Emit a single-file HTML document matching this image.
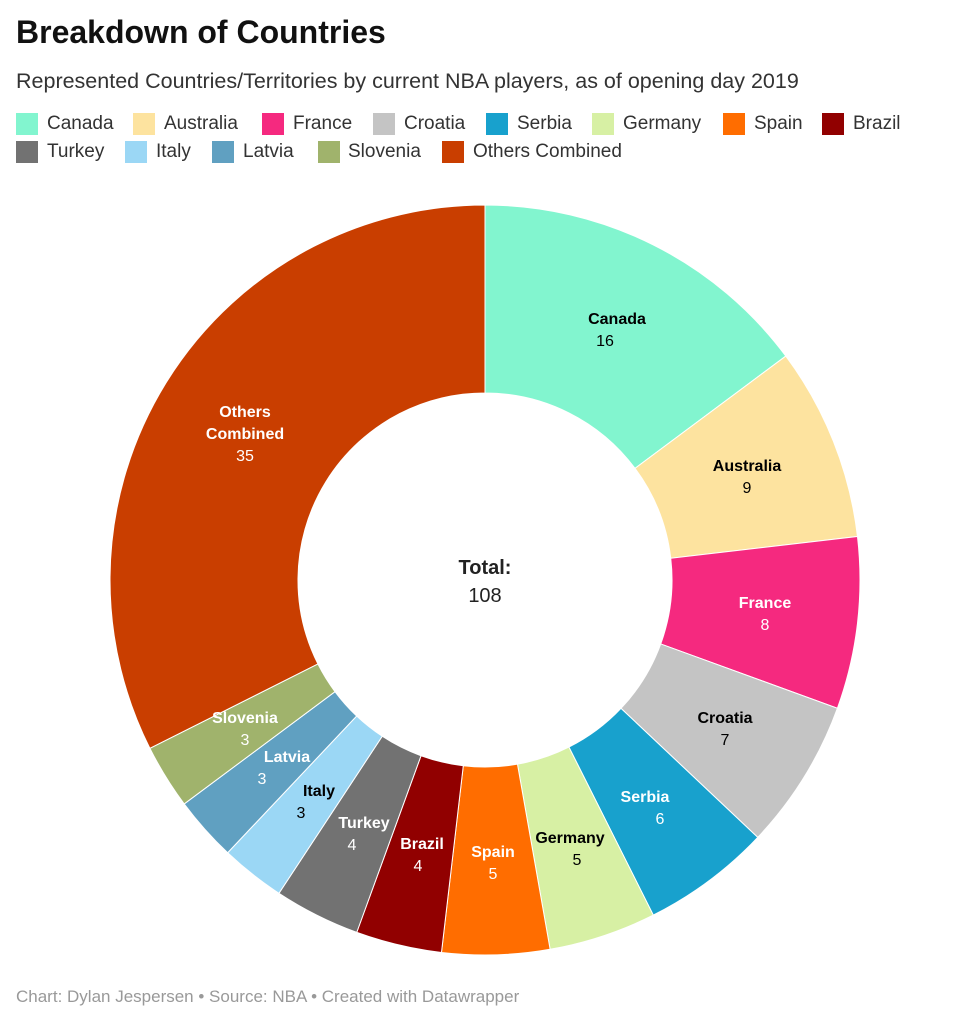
<!DOCTYPE html>
<html><head><meta charset="utf-8"><style>
body{margin:0;width:971px;height:1024px;background:#fff;font-family:"Liberation Sans",sans-serif;position:relative;overflow:hidden;color:#222}
.t{position:absolute;left:16px;top:14px;font-size:32px;font-weight:bold;color:#111}
.s{position:absolute;left:16px;top:69px;font-size:21.5px;color:#333}
.l{position:absolute;font-size:19px;color:#333;line-height:22px}
.sw{position:absolute;width:22px;height:22px}
.f{position:absolute;left:16px;top:987px;font-size:17px;color:#999}
svg{position:absolute;left:0;top:0}
svg text{font-family:"Liberation Sans",sans-serif;font-size:16px;text-anchor:middle}
</style></head><body>
<div class="t">Breakdown of Countries</div>
<div class="s">Represented Countries/Territories by current NBA players, as of opening day 2019</div>
<div class="sw" style="left:16px;top:113px;background:#82f5cf"></div><div class="l" style="left:47px;top:113px">Canada</div>
<div class="sw" style="left:133px;top:113px;background:#fde39f"></div><div class="l" style="left:164px;top:113px">Australia</div>
<div class="sw" style="left:262px;top:113px;background:#f5297f"></div><div class="l" style="left:293px;top:113px">France</div>
<div class="sw" style="left:373px;top:113px;background:#c4c4c4"></div><div class="l" style="left:404px;top:113px">Croatia</div>
<div class="sw" style="left:486px;top:113px;background:#18a1cd"></div><div class="l" style="left:517px;top:113px">Serbia</div>
<div class="sw" style="left:592px;top:113px;background:#d7f0a4"></div><div class="l" style="left:623px;top:113px">Germany</div>
<div class="sw" style="left:723px;top:113px;background:#ff6d00"></div><div class="l" style="left:754px;top:113px">Spain</div>
<div class="sw" style="left:822px;top:113px;background:#910000"></div><div class="l" style="left:853px;top:113px">Brazil</div>
<div class="sw" style="left:16px;top:141px;background:#727272"></div><div class="l" style="left:47px;top:141px">Turkey</div>
<div class="sw" style="left:125px;top:141px;background:#9bd7f5"></div><div class="l" style="left:156px;top:141px">Italy</div>
<div class="sw" style="left:212px;top:141px;background:#60a0c1"></div><div class="l" style="left:243px;top:141px">Latvia</div>
<div class="sw" style="left:318px;top:141px;background:#a0b36c"></div><div class="l" style="left:348px;top:141px">Slovenia</div>
<div class="sw" style="left:442px;top:141px;background:#c93e00"></div><div class="l" style="left:473px;top:141px">Others Combined</div>
<svg width="971" height="1024">
<g id="pie"></g>
<g font-weight="bold">
<text x="617" y="324" fill="#000" font-weight="bold">Canada</text><text x="605" y="346" fill="#000" font-weight="normal">16</text>
<text x="747" y="471" fill="#000" font-weight="bold">Australia</text><text x="747" y="493" fill="#000" font-weight="normal">9</text>
<text x="765" y="608" fill="#fff" font-weight="bold">France</text><text x="765" y="630" fill="#fff" font-weight="normal">8</text>
<text x="725" y="723" fill="#000" font-weight="bold">Croatia</text><text x="725" y="745" fill="#000" font-weight="normal">7</text>
<text x="645" y="802" fill="#fff" font-weight="bold">Serbia</text><text x="660" y="824" fill="#fff" font-weight="normal">6</text>
<text x="570" y="843" fill="#000" font-weight="bold">Germany</text><text x="577" y="865" fill="#000" font-weight="normal">5</text>
<text x="493" y="857" fill="#fff" font-weight="bold">Spain</text><text x="493" y="879" fill="#fff" font-weight="normal">5</text>
<text x="422" y="849" fill="#fff" font-weight="bold">Brazil</text><text x="418" y="871" fill="#fff" font-weight="normal">4</text>
<text x="364" y="828" fill="#fff" font-weight="bold">Turkey</text><text x="352" y="850" fill="#fff" font-weight="normal">4</text>
<text x="319" y="796" fill="#000" font-weight="bold">Italy</text><text x="301" y="818" fill="#000" font-weight="normal">3</text>
<text x="287" y="762" fill="#fff" font-weight="bold">Latvia</text><text x="262" y="784" fill="#fff" font-weight="normal">3</text>
<text x="245" y="723" fill="#fff" font-weight="bold">Slovenia</text><text x="245" y="745" fill="#fff" font-weight="normal">3</text>
<text x="245" y="417" fill="#fff" font-weight="bold">Others</text><text x="245" y="439" fill="#fff" font-weight="bold">Combined</text><text x="245" y="461" fill="#fff" font-weight="normal">35</text>
<text x="485" y="574" fill="#222" font-weight="bold" style="font-size:20px">Total:</text><text x="485" y="602" fill="#222" font-weight="normal" style="font-size:20px">108</text>
</g>
</svg>
<div class="f">Chart: Dylan Jespersen • Source: NBA • Created with Datawrapper</div>
<script>
var d=[[16,"#82f5cf"],[9,"#fde39f"],[8,"#f5297f"],[7,"#c4c4c4"],[6,"#18a1cd"],[5,"#d7f0a4"],[5,"#ff6d00"],[4,"#910000"],[4,"#727272"],[3,"#9bd7f5"],[3,"#60a0c1"],[3,"#a0b36c"],[35,"#c93e00"]];
var cx=485,cy=580,R=375,r=187,a=0,s="";
function p(rad,ang){return (cx+rad*Math.sin(ang)).toFixed(2)+","+(cy-rad*Math.cos(ang)).toFixed(2);}
d.forEach(function(e){var b=a+e[0]/108*2*Math.PI,L=(b-a)>Math.PI?1:0;
s+='<path d="M'+p(R,a)+'A'+R+','+R+' 0 '+L+' 1 '+p(R,b)+'L'+p(r,b)+'A'+r+','+r+' 0 '+L+' 0 '+p(r,a)+'Z" fill="'+e[1]+'" stroke="#fff" stroke-width="1"/>';a=b;});
document.getElementById("pie").innerHTML=s;
</script>
</body></html>
